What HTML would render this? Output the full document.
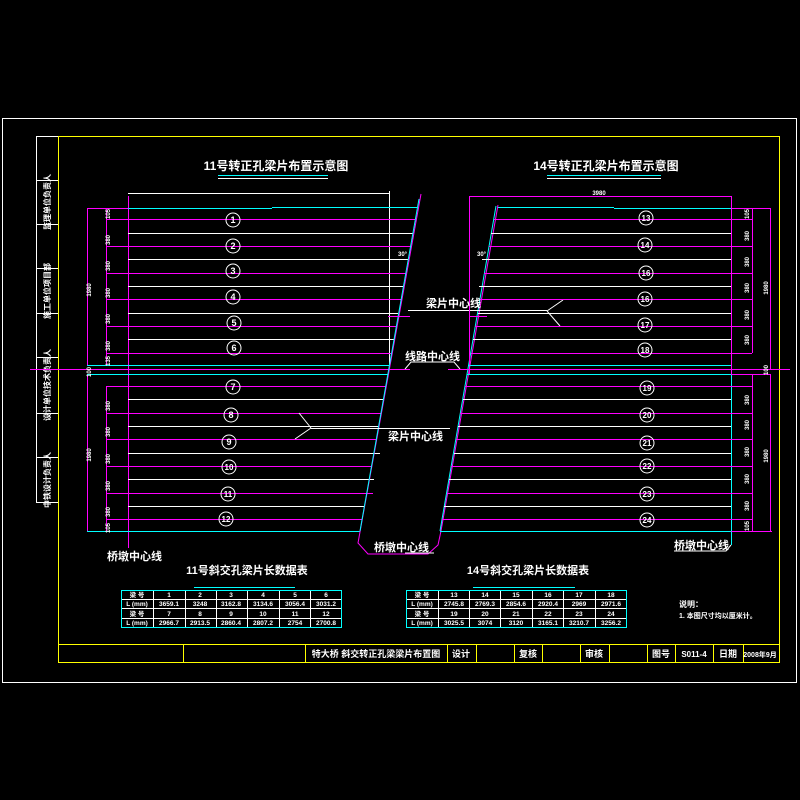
<!DOCTYPE html>
<html><head><meta charset="utf-8"><style>
html,body{margin:0;padding:0;background:#000;}
svg{display:block}
text{font-family:"Liberation Sans","Noto Sans CJK SC",sans-serif;fill:#fff;font-weight:bold}
</style></head><body>
<svg width="800" height="800" viewBox="0 0 800 800" xmlns="http://www.w3.org/2000/svg" shape-rendering="crispEdges">
<rect width="800" height="800" fill="#000"/>
<!-- frames -->
<rect x="2.5" y="118.5" width="794" height="564" fill="none" stroke="#fff"/>
<rect x="36.5" y="136.5" width="22" height="366" fill="none" stroke="#fff"/>
<g stroke="#fff"><line x1="36" y1="180.5" x2="58" y2="180.5"/><line x1="36" y1="224.5" x2="58" y2="224.5"/><line x1="36" y1="268.5" x2="58" y2="268.5"/><line x1="36" y1="313.5" x2="58" y2="313.5"/><line x1="36" y1="357.5" x2="58" y2="357.5"/><line x1="36" y1="413.5" x2="58" y2="413.5"/><line x1="36" y1="457.5" x2="58" y2="457.5"/></g>
<g font-size="8">
<text transform="translate(50,202) rotate(-90)" text-anchor="middle">监理单位负责人</text>
<text transform="translate(50,291) rotate(-90)" text-anchor="middle">施工单位项目部</text>
<text transform="translate(50,385) rotate(-90)" text-anchor="middle">设计单位技术负责人</text>
<text transform="translate(50,480) rotate(-90)" text-anchor="middle">中铁设计负责人</text>
</g>
<rect x="58.5" y="136.5" width="721" height="526" fill="none" stroke="#ff0"/>
<line x1="58" y1="644.5" x2="780" y2="644.5" stroke="#ff0"/>
<g stroke="#ff0">
<line x1="183.5" y1="644" x2="183.5" y2="663"/><line x1="305.5" y1="644" x2="305.5" y2="663"/><line x1="447.5" y1="644" x2="447.5" y2="663"/><line x1="476.5" y1="644" x2="476.5" y2="663"/><line x1="514.5" y1="644" x2="514.5" y2="663"/><line x1="542.5" y1="644" x2="542.5" y2="663"/><line x1="580.5" y1="644" x2="580.5" y2="663"/><line x1="609.5" y1="644" x2="609.5" y2="663"/><line x1="647.5" y1="644" x2="647.5" y2="663"/><line x1="675.5" y1="644" x2="675.5" y2="663"/><line x1="713.5" y1="644" x2="713.5" y2="663"/><line x1="743.5" y1="644" x2="743.5" y2="663"/>
</g>
<g font-size="9">
<text x="376" y="657" text-anchor="middle">特大桥 斜交转正孔梁梁片布置图</text>
<text x="461" y="657" text-anchor="middle">设计</text>
<text x="528" y="657" text-anchor="middle">复核</text>
<text x="594" y="657" text-anchor="middle">审核</text>
<text x="661" y="657" text-anchor="middle">图号</text>
<text x="694" y="657" text-anchor="middle" font-size="8">S011-4</text>
<text x="728" y="657" text-anchor="middle">日期</text>
<text x="760" y="657" text-anchor="middle" font-size="7">2008年9月</text>
</g>

<!-- titles -->
<text x="276" y="170" font-size="12" text-anchor="middle">11号转正孔梁片布置示意图</text>
<line x1="218" y1="175.5" x2="328" y2="175.5" stroke="#0ff"/><line x1="218" y1="178.5" x2="328" y2="178.5" stroke="#fff"/>
<text x="606" y="170" font-size="12" text-anchor="middle">14号转正孔梁片布置示意图</text>
<line x1="547" y1="175.5" x2="661" y2="175.5" stroke="#0ff"/><line x1="547" y1="178.5" x2="661" y2="178.5" stroke="#fff"/>

<!-- LEFT diagram -->
<g stroke-width="1">
<line x1="128" y1="193.5" x2="389" y2="193.5" stroke="#fff"/>
<line x1="389.5" y1="191" x2="389.5" y2="365" stroke="#fff"/>
<line x1="128.5" y1="196" x2="128.5" y2="548" stroke="#f0f"/>
<line x1="106.5" y1="208" x2="106.5" y2="365" stroke="#f0f"/>
<line x1="106.5" y1="386" x2="106.5" y2="531" stroke="#f0f"/>
<line x1="87.5" y1="208" x2="87.5" y2="365" stroke="#f0f"/>
<line x1="87.5" y1="374" x2="87.5" y2="531" stroke="#f0f"/>
<line x1="106" y1="208.5" x2="272" y2="208.5" stroke="#f0f"/>
<line x1="128" y1="208.5" x2="272" y2="208.5" stroke="#0ff"/><line x1="272" y1="207.5" x2="417" y2="207.5" stroke="#0ff"/>
<line x1="87" y1="208.5" x2="128" y2="208.5" stroke="#f0f"/>
<line x1="106" y1="219.5" x2="415" y2="219.5" stroke="#f0f"/>
<line x1="128" y1="233.5" x2="413" y2="233.5" stroke="#fff"/>
<line x1="106" y1="246.5" x2="410" y2="246.5" stroke="#f0f"/>
<line x1="128" y1="259.5" x2="408" y2="259.5" stroke="#fff"/>
<line x1="106" y1="273.5" x2="406" y2="273.5" stroke="#f0f"/>
<line x1="128" y1="286.5" x2="403" y2="286.5" stroke="#fff"/>
<line x1="106" y1="299.5" x2="401" y2="299.5" stroke="#f0f"/>
<line x1="128" y1="313.5" x2="398" y2="313.5" stroke="#fff"/>
<line x1="106" y1="326.5" x2="396" y2="326.5" stroke="#f0f"/>
<line x1="128" y1="339.5" x2="394" y2="339.5" stroke="#fff"/>
<line x1="106" y1="353.5" x2="391" y2="353.5" stroke="#f0f"/>
<line x1="87" y1="365.5" x2="389" y2="365.5" stroke="#0ff"/>
<line x1="30" y1="369.5" x2="410" y2="369.5" stroke="#f0f"/>
<line x1="87" y1="374.5" x2="388" y2="374.5" stroke="#0ff"/>
<line x1="106" y1="386.5" x2="386" y2="386.5" stroke="#f0f"/>
<line x1="128" y1="399.5" x2="383" y2="399.5" stroke="#fff"/>
<line x1="106" y1="413.5" x2="381" y2="413.5" stroke="#f0f"/>
<line x1="128" y1="426.5" x2="379" y2="426.5" stroke="#fff"/>
<line x1="106" y1="439.5" x2="376" y2="439.5" stroke="#f0f"/>
<line x1="128" y1="453.5" x2="380" y2="453.5" stroke="#fff"/>
<line x1="106" y1="466.5" x2="371" y2="466.5" stroke="#f0f"/>
<line x1="128" y1="479.5" x2="374" y2="479.5" stroke="#fff"/>
<line x1="106" y1="493.5" x2="373" y2="493.5" stroke="#f0f"/>
<line x1="128" y1="506.5" x2="364" y2="506.5" stroke="#fff"/>
<line x1="106" y1="519.5" x2="362" y2="519.5" stroke="#f0f"/>
<line x1="87" y1="531.5" x2="360" y2="531.5" stroke="#0ff"/>
</g>
<!-- slants -->
<g shape-rendering="auto" fill="none">
<polyline points="421,194 358,543 368,554 428,554 438,545 441,531 498,205" stroke="#f0f"/>
<line x1="419" y1="199" x2="360" y2="531" stroke="#0ff"/>
<line x1="496" y1="206" x2="440" y2="531" stroke="#0ff"/>
<line x1="299" y1="413" x2="311" y2="428" stroke="#fff"/><line x1="311" y1="428" x2="295" y2="439" stroke="#fff"/>
<line x1="547" y1="311" x2="563" y2="300" stroke="#fff"/><line x1="547" y1="311" x2="560" y2="326" stroke="#fff"/>
<polyline points="405,369 411,362 454,362 460,369" stroke="#fff"/>
</g>
<line x1="311" y1="428.5" x2="450" y2="428.5" stroke="#fff"/>
<line x1="408" y1="310.5" x2="547" y2="310.5" stroke="#fff"/>
<line x1="448" y1="369.5" x2="790" y2="369.5" stroke="#f0f"/>
<line x1="388" y1="316.5" x2="410" y2="316.5" stroke="#f0f"/>
<line x1="469" y1="316.5" x2="487" y2="316.5" stroke="#f0f"/>
<text x="398" y="256" font-size="6">30°</text>
<text x="477" y="256" font-size="6">30°</text>

<!-- RIGHT diagram -->
<g>
<line x1="469" y1="196.5" x2="731" y2="196.5" stroke="#f0f"/>
<line x1="469.5" y1="196" x2="469.5" y2="374" stroke="#f0f"/>
<line x1="731.5" y1="196" x2="731.5" y2="374" stroke="#f0f"/>
<line x1="731.5" y1="374" x2="731.5" y2="545" stroke="#0ff"/>
<line x1="752.5" y1="208" x2="752.5" y2="353" stroke="#f0f"/>
<line x1="752.5" y1="374" x2="752.5" y2="531" stroke="#f0f"/>
<line x1="770.5" y1="208" x2="770.5" y2="369" stroke="#f0f"/>
<line x1="770.5" y1="374" x2="770.5" y2="531" stroke="#f0f"/>
<line x1="498" y1="207.5" x2="614" y2="207.5" stroke="#0ff"/><line x1="614" y1="208.5" x2="770" y2="208.5" stroke="#f0f"/><line x1="614" y1="208.5" x2="731" y2="208.5" stroke="#0ff"/>
<line x1="494" y1="219.5" x2="752" y2="219.5" stroke="#f0f"/>
<line x1="491" y1="233.5" x2="731" y2="233.5" stroke="#fff"/>
<line x1="489" y1="246.5" x2="752" y2="246.5" stroke="#f0f"/>
<line x1="482" y1="259.5" x2="731" y2="259.5" stroke="#fff"/>
<line x1="484" y1="273.5" x2="752" y2="273.5" stroke="#f0f"/>
<line x1="479" y1="286.5" x2="731" y2="286.5" stroke="#fff"/>
<line x1="480" y1="299.5" x2="752" y2="299.5" stroke="#f0f"/>
<line x1="478" y1="313.5" x2="731" y2="313.5" stroke="#fff"/>
<line x1="475" y1="326.5" x2="752" y2="326.5" stroke="#f0f"/>
<line x1="473" y1="339.5" x2="731" y2="339.5" stroke="#fff"/>
<line x1="471" y1="353.5" x2="752" y2="353.5" stroke="#f0f"/>
<line x1="469" y1="365.5" x2="731" y2="365.5" stroke="#0ff"/>
<line x1="467" y1="374.5" x2="770" y2="374.5" stroke="#f0f"/>
<line x1="467" y1="374.5" x2="731" y2="374.5" stroke="#0ff"/>
<line x1="465" y1="386.5" x2="752" y2="386.5" stroke="#f0f"/>
<line x1="463" y1="399.5" x2="731" y2="399.5" stroke="#fff"/>
<line x1="460" y1="413.5" x2="752" y2="413.5" stroke="#f0f"/>
<line x1="458" y1="426.5" x2="731" y2="426.5" stroke="#fff"/>
<line x1="456" y1="439.5" x2="752" y2="439.5" stroke="#f0f"/>
<line x1="454" y1="453.5" x2="731" y2="453.5" stroke="#fff"/>
<line x1="451" y1="466.5" x2="752" y2="466.5" stroke="#f0f"/>
<line x1="449" y1="479.5" x2="731" y2="479.5" stroke="#fff"/>
<line x1="447" y1="493.5" x2="752" y2="493.5" stroke="#f0f"/>
<line x1="444" y1="506.5" x2="731" y2="506.5" stroke="#fff"/>
<line x1="442" y1="519.5" x2="752" y2="519.5" stroke="#f0f"/>
<line x1="440" y1="531.5" x2="731" y2="531.5" stroke="#0ff"/>
<line x1="731" y1="531.5" x2="772" y2="531.5" stroke="#f0f"/>
</g>
<polyline points="731,545 726,551 674,551" stroke="#fff" fill="none" shape-rendering="auto"/>
<polyline points="405,553 434,553" stroke="#fff"/>

<!-- circles -->
<g fill="none" stroke="#fff" shape-rendering="auto">
<circle cx="233" cy="220" r="7"/><circle cx="233" cy="246" r="7"/><circle cx="233" cy="271" r="7"/><circle cx="233" cy="297" r="7"/><circle cx="234" cy="323" r="7"/><circle cx="234" cy="348" r="7"/>
<circle cx="233" cy="387" r="7"/><circle cx="231" cy="415" r="7"/><circle cx="229" cy="442" r="7"/><circle cx="229" cy="467" r="7"/><circle cx="228" cy="494" r="7"/><circle cx="226" cy="519" r="7"/>
<circle cx="646" cy="218" r="7"/><circle cx="645" cy="245" r="7"/><circle cx="646" cy="273" r="7"/><circle cx="645" cy="299" r="7"/><circle cx="645" cy="325" r="7"/><circle cx="645" cy="350" r="7"/>
<circle cx="647" cy="388" r="7"/><circle cx="647" cy="415" r="7"/><circle cx="647" cy="443" r="7"/><circle cx="647" cy="466" r="7"/><circle cx="647" cy="494" r="7"/><circle cx="647" cy="520" r="7"/>
</g>
<g font-size="9" text-anchor="middle">
<text x="233" y="223">1</text><text x="233" y="249">2</text><text x="233" y="274">3</text><text x="233" y="300">4</text><text x="234" y="326">5</text><text x="234" y="351">6</text>
<text x="233" y="390">7</text><text x="231" y="418">8</text><text x="229" y="445">9</text><text x="229" y="470" font-size="8">10</text><text x="228" y="497" font-size="8">11</text><text x="226" y="522" font-size="8">12</text>
<g font-size="8"><text x="646" y="221">13</text><text x="645" y="248">14</text><text x="646" y="276">16</text><text x="645" y="302">16</text><text x="645" y="328">17</text><text x="645" y="353">18</text>
<text x="647" y="391">19</text><text x="647" y="418">20</text><text x="647" y="446">21</text><text x="647" y="469">22</text><text x="647" y="497">23</text><text x="647" y="523">24</text></g>
</g>

<!-- dims -->
<g font-size="6" text-anchor="middle">
<text transform="translate(110,214) rotate(-90)">105</text>
<text transform="translate(110,240) rotate(-90)">380</text>
<text transform="translate(110,266) rotate(-90)">380</text>
<text transform="translate(110,293) rotate(-90)">380</text>
<text transform="translate(110,319) rotate(-90)">380</text>
<text transform="translate(110,346) rotate(-90)">380</text>
<text transform="translate(110,361) rotate(-90)">135</text>
<text transform="translate(110,406) rotate(-90)">380</text>
<text transform="translate(110,432) rotate(-90)">380</text>
<text transform="translate(110,459) rotate(-90)">380</text>
<text transform="translate(110,486) rotate(-90)">380</text>
<text transform="translate(110,512) rotate(-90)">380</text>
<text transform="translate(110,528) rotate(-90)">105</text>
<text transform="translate(91,290) rotate(-90)">1980</text>
<text transform="translate(91,455) rotate(-90)">1980</text>
<text transform="translate(91,372) rotate(-90)">100</text>
<text transform="translate(749,214) rotate(-90)">105</text>
<text transform="translate(749,236) rotate(-90)">380</text>
<text transform="translate(749,262) rotate(-90)">380</text>
<text transform="translate(749,288) rotate(-90)">380</text>
<text transform="translate(749,315) rotate(-90)">380</text>
<text transform="translate(749,340) rotate(-90)">380</text>
<text transform="translate(749,400) rotate(-90)">380</text>
<text transform="translate(749,425) rotate(-90)">380</text>
<text transform="translate(749,452) rotate(-90)">380</text>
<text transform="translate(749,479) rotate(-90)">380</text>
<text transform="translate(749,506) rotate(-90)">380</text>
<text transform="translate(749,526) rotate(-90)">105</text>
<text transform="translate(768,288) rotate(-90)">1980</text>
<text transform="translate(768,456) rotate(-90)">1980</text>
<text transform="translate(768,370) rotate(-90)">100</text>
<text x="599" y="195">3980</text>
</g>

<!-- labels -->
<g font-size="11">
<text x="426" y="307">梁片中心线</text>
<text x="405" y="360">线路中心线</text>
<text x="388" y="440">梁片中心线</text>
<text x="374" y="551">桥墩中心线</text>
<text x="107" y="560">桥墩中心线</text>
<text x="674" y="549">桥墩中心线</text>
</g>

<!-- tables -->
<text x="247" y="574" font-size="11" text-anchor="middle">11号斜交孔梁片长数据表</text>
<line x1="194" y1="587.5" x2="295" y2="587.5" stroke="#0ff"/>
<text x="528" y="574" font-size="11" text-anchor="middle">14号斜交孔梁片长数据表</text>
<line x1="473" y1="587.5" x2="575" y2="587.5" stroke="#0ff"/>
<g stroke="#0ff" fill="none">
<rect x="121.5" y="590.5" width="220" height="37"/>
<rect x="406.5" y="590.5" width="220" height="37"/>
</g>
<g stroke="#fff">
<line x1="122" y1="599.5" x2="341" y2="599.5"/><line x1="122" y1="608.5" x2="341" y2="608.5"/><line x1="122" y1="618.5" x2="341" y2="618.5"/>
<line x1="153.5" y1="591" x2="153.5" y2="627"/><line x1="185.5" y1="591" x2="185.5" y2="627"/><line x1="216.5" y1="591" x2="216.5" y2="627"/><line x1="247.5" y1="591" x2="247.5" y2="627"/><line x1="279.5" y1="591" x2="279.5" y2="627"/><line x1="310.5" y1="591" x2="310.5" y2="627"/>
<line x1="407" y1="599.5" x2="626" y2="599.5"/><line x1="407" y1="608.5" x2="626" y2="608.5"/><line x1="407" y1="618.5" x2="626" y2="618.5"/>
<line x1="438.5" y1="591" x2="438.5" y2="627"/><line x1="469.5" y1="591" x2="469.5" y2="627"/><line x1="500.5" y1="591" x2="500.5" y2="627"/><line x1="532.5" y1="591" x2="532.5" y2="627"/><line x1="563.5" y1="591" x2="563.5" y2="627"/><line x1="595.5" y1="591" x2="595.5" y2="627"/>
</g>
<g font-size="6.5" text-anchor="middle" font-weight="normal">
<text x="137" y="597">梁 号</text><text x="169" y="597">1</text><text x="200" y="597">2</text><text x="231" y="597">3</text><text x="263" y="597">4</text><text x="295" y="597">5</text><text x="326" y="597">6</text>
<text x="137" y="606">L (mm)</text><text x="169" y="606">3659.1</text><text x="200" y="606">3248</text><text x="231" y="606">3162.8</text><text x="263" y="606">3134.6</text><text x="295" y="606">3056.4</text><text x="326" y="606">3031.2</text>
<text x="137" y="616">梁 号</text><text x="169" y="616">7</text><text x="200" y="616">8</text><text x="231" y="616">9</text><text x="263" y="616">10</text><text x="295" y="616">11</text><text x="326" y="616">12</text>
<text x="137" y="625">L (mm)</text><text x="169" y="625">2966.7</text><text x="200" y="625">2913.5</text><text x="231" y="625">2860.4</text><text x="263" y="625">2807.2</text><text x="295" y="625">2754</text><text x="326" y="625">2700.8</text>
<text x="422" y="597">梁 号</text><text x="454" y="597">13</text><text x="485" y="597">14</text><text x="516" y="597">15</text><text x="548" y="597">16</text><text x="579" y="597">17</text><text x="611" y="597">18</text>
<text x="422" y="606">L (mm)</text><text x="454" y="606">2745.8</text><text x="485" y="606">2769.3</text><text x="516" y="606">2854.6</text><text x="548" y="606">2920.4</text><text x="579" y="606">2969</text><text x="611" y="606">2971.6</text>
<text x="422" y="616">梁 号</text><text x="454" y="616">19</text><text x="485" y="616">20</text><text x="516" y="616">21</text><text x="548" y="616">22</text><text x="579" y="616">23</text><text x="611" y="616">24</text>
<text x="422" y="625">L (mm)</text><text x="454" y="625">3025.5</text><text x="485" y="625">3074</text><text x="516" y="625">3120</text><text x="548" y="625">3165.1</text><text x="579" y="625">3210.7</text><text x="611" y="625">3256.2</text>
</g>
<text x="679" y="607" font-size="8">说明：</text>
<text x="679" y="618" font-size="7">1. 本图尺寸均以厘米计。</text>
</svg>
</body></html>
